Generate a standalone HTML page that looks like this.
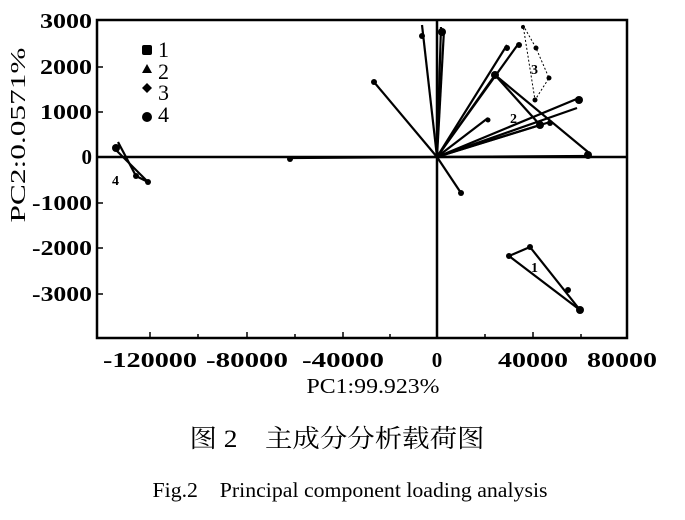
<!DOCTYPE html>
<html><head><meta charset="utf-8"><style>
body{margin:0;background:#fff;}
svg text{font-family:"Liberation Serif","Noto Serif CJK SC",serif;fill:#000;}
</style></head><body>
<svg width="685" height="515" viewBox="0 0 685 515" xmlns="http://www.w3.org/2000/svg">
<g stroke="#000" fill="none">
<rect x="97" y="20" width="530" height="318" stroke-width="2.5"/>
<line x1="97" y1="157" x2="627" y2="157" stroke-width="2.5"/>
<line x1="437" y1="20" x2="437" y2="338" stroke-width="2.5"/>
<g stroke-width="1.5">
<line x1="150" y1="338" x2="150" y2="332"/><line x1="198" y1="338" x2="198" y2="334"/><line x1="247" y1="338" x2="247" y2="332"/><line x1="295" y1="338" x2="295" y2="334"/><line x1="343" y1="338" x2="343" y2="332"/><line x1="390" y1="338" x2="390" y2="334"/><line x1="485" y1="338" x2="485" y2="334"/><line x1="533" y1="338" x2="533" y2="332"/><line x1="581" y1="338" x2="581" y2="334"/>
<line x1="97" y1="67" x2="103" y2="67"/><line x1="97" y1="112" x2="103" y2="112"/><line x1="97" y1="203" x2="103" y2="203"/><line x1="97" y1="248" x2="103" y2="248"/><line x1="97" y1="294" x2="103" y2="294"/>
</g>
<g stroke-width="2.2">
<line x1="437" y1="157" x2="422" y2="25"/>
<line x1="437" y1="157" x2="441" y2="27"/>
<line x1="437" y1="157" x2="444" y2="30"/>
<line x1="437" y1="157" x2="374" y2="82"/>
<line x1="437" y1="157" x2="461" y2="193"/>
<line x1="437" y1="157" x2="507" y2="45"/>
<line x1="437" y1="157" x2="519" y2="43"/>
<line x1="437" y1="157" x2="495" y2="75"/>
<line x1="437" y1="157" x2="579" y2="98"/>
<line x1="437" y1="157" x2="577" y2="108"/>
<line x1="437" y1="157" x2="588" y2="156"/>
<line x1="437" y1="157" x2="540" y2="125"/>
<line x1="437" y1="157" x2="550" y2="122"/>
<line x1="437" y1="157" x2="488" y2="118"/>
<line x1="495" y1="75" x2="588" y2="152"/>
<line x1="495" y1="75" x2="540" y2="125"/>
<line x1="290" y1="158" x2="437" y2="157"/>
<line x1="116" y1="150" x2="148" y2="182"/>
<line x1="118" y1="142" x2="136" y2="176"/>
<line x1="136" y1="176" x2="148" y2="182"/>
<line x1="509" y1="256" x2="530" y2="247"/>
<line x1="530" y1="247" x2="580" y2="310"/>
<line x1="509" y1="256" x2="580" y2="310"/>
</g>
<polygon points="523,25 536,48 549,78 535,100" stroke-width="1" stroke-dasharray="2,2"/>
</g>
<g fill="#000">
<circle cx="422" cy="36" r="3"/><circle cx="442" cy="32" r="4"/><circle cx="374" cy="82" r="3"/><circle cx="461" cy="193" r="3"/>
<circle cx="507" cy="48" r="3"/><circle cx="519" cy="45" r="3"/><circle cx="495" cy="75" r="4"/><circle cx="579" cy="100" r="4"/>
<circle cx="540" cy="125" r="4"/><circle cx="550" cy="123" r="3"/><circle cx="588" cy="155" r="4"/><circle cx="488" cy="120" r="2.5"/>
<circle cx="523" cy="27" r="2"/><circle cx="536" cy="48" r="2.5"/><circle cx="549" cy="78" r="2.5"/><circle cx="535" cy="100" r="2.5"/>
<circle cx="290" cy="159" r="3"/><circle cx="116" cy="148" r="4"/><circle cx="136" cy="176" r="3"/><circle cx="148" cy="182" r="3"/>
<circle cx="509" cy="256" r="3"/><circle cx="530" cy="247" r="3"/><circle cx="568" cy="290" r="3"/><circle cx="580" cy="310" r="4"/>
<rect x="142" y="45" width="10" height="10" rx="2"/>
<polygon points="147,64 152,73 142,73"/>
<polygon points="147,83 152,88 147,93 142,88"/>
<circle cx="147" cy="117" r="5"/>
</g>
<g font-size="22">
<text x="158" y="57">1</text><text x="158" y="79">2</text><text x="158" y="100">3</text><text x="158" y="122">4</text>
</g>
<g font-size="14" font-weight="bold" font-family="Liberation Sans,sans-serif">
<text x="510" y="123">2</text><text x="531" y="74">3</text><text x="531" y="272">1</text><text x="112" y="185">4</text>
</g>
<g font-size="21" font-weight="bold" text-anchor="end">
<text x="92" y="28" textLength="52" lengthAdjust="spacingAndGlyphs">3000</text><text x="92" y="74" textLength="52" lengthAdjust="spacingAndGlyphs">2000</text><text x="92" y="119" textLength="52" lengthAdjust="spacingAndGlyphs">1000</text><text x="92" y="164">0</text>
<text x="92" y="210" textLength="60" lengthAdjust="spacingAndGlyphs">-1000</text><text x="92" y="255" textLength="60" lengthAdjust="spacingAndGlyphs">-2000</text><text x="92" y="301" textLength="60" lengthAdjust="spacingAndGlyphs">-3000</text>
</g>
<g font-size="21" font-weight="bold" text-anchor="middle">
<text x="150" y="367" textLength="94" lengthAdjust="spacingAndGlyphs">-120000</text><text x="247" y="367" textLength="82" lengthAdjust="spacingAndGlyphs">-80000</text><text x="343" y="367" textLength="82" lengthAdjust="spacingAndGlyphs">-40000</text><text x="437" y="367">0</text><text x="533" y="367" textLength="70" lengthAdjust="spacingAndGlyphs">40000</text><text x="622" y="367" textLength="70" lengthAdjust="spacingAndGlyphs">80000</text>
<text x="373" y="393" font-weight="normal" textLength="133" lengthAdjust="spacingAndGlyphs">PC1:99.923%</text>
</g>
<g text-anchor="middle">
<text x="337" y="447" font-size="25" textLength="295" lengthAdjust="spacingAndGlyphs">图 2　主成分分析载荷图</text>
<text x="350" y="497" font-size="21" textLength="395" lengthAdjust="spacingAndGlyphs">Fig.2　Principal component loading analysis</text>
</g>
<text font-size="21" text-anchor="middle" textLength="175" lengthAdjust="spacingAndGlyphs" transform="translate(25,135) rotate(-90)">PC2:0.0571%</text>
</svg>
</body></html>
